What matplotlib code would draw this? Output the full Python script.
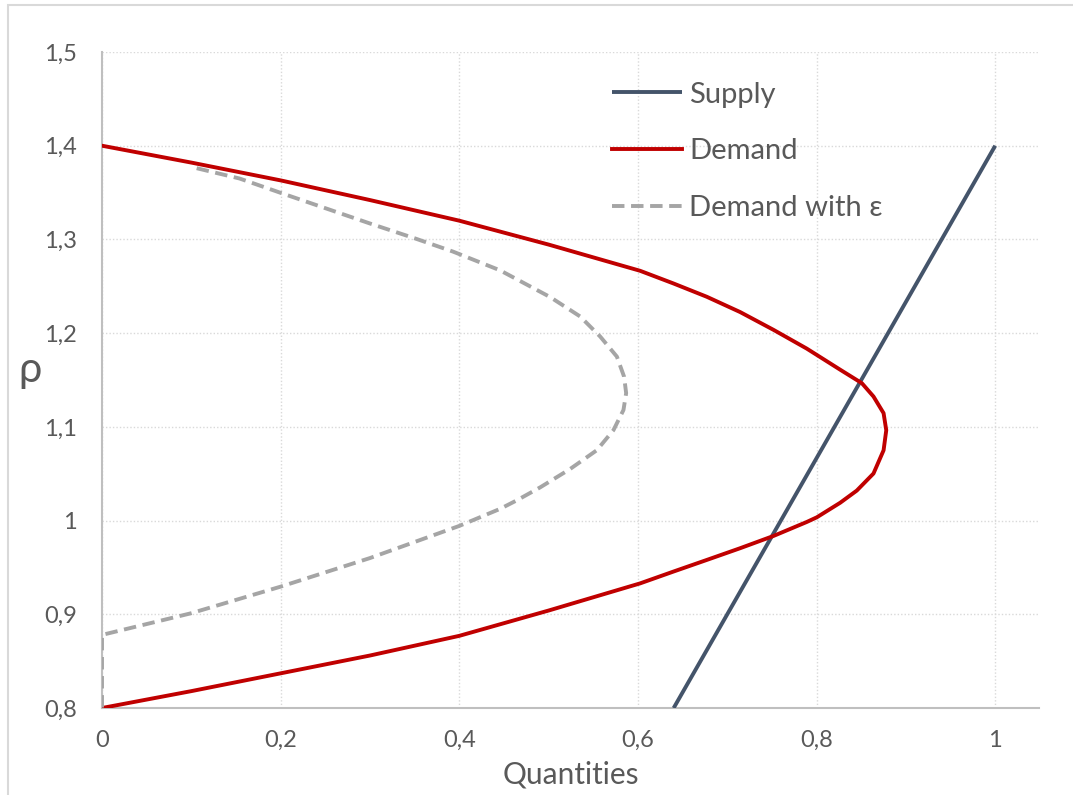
import matplotlib
matplotlib.use("Agg")
import matplotlib.pyplot as plt
from matplotlib.patches import Rectangle
from matplotlib.ticker import FuncFormatter

plt.rcParams['font.family'] = ['Lato', 'DejaVu Sans']

# Supply line (quantity, rho)
supply_q = [0.64, 1.0]
supply_rho = [0.8, 1.4]

# Demand curve (quantity, rho)
demand_q = [0.0, 0.1, 0.2, 0.3, 0.4, 0.5, 0.6025, 0.6398, 0.6771, 0.7144, 0.7518, 0.789, 0.8264,
            0.8507, 0.8637, 0.875, 0.878, 0.875, 0.8637, 0.845, 0.8264, 0.8003, 0.789, 0.7518,
            0.7144, 0.6771, 0.6398, 0.6025, 0.5, 0.4, 0.3, 0.2, 0.1, 0.0]
demand_rho = [1.4, 1.382, 1.363, 1.342, 1.320, 1.2945, 1.2665, 1.253, 1.2388, 1.2225, 1.2035, 1.1835, 1.161,
              1.1466, 1.1324, 1.1146, 1.0964, 1.075, 1.0502, 1.032, 1.019, 1.0035, 0.9985, 0.9836,
              0.9705, 0.958, 0.9456, 0.933, 0.904, 0.877, 0.856, 0.837, 0.818, 0.8]

# Demand with epsilon
eps_q = [0.106, 0.154, 0.2, 0.3, 0.3507, 0.393, 0.4457, 0.5017, 0.5353, 0.5577, 0.5764, 0.5845,
         0.5868, 0.5838, 0.5726, 0.554, 0.524, 0.4905, 0.4644, 0.4457, 0.4, 0.3, 0.2, 0.0993, 0.0, 0.0]
eps_rho = [1.376, 1.365, 1.3497, 1.317, 1.301, 1.287, 1.267, 1.2385, 1.2178, 1.1964, 1.175, 1.1535,
           1.136, 1.118, 1.0965, 1.0751, 1.055, 1.0354, 1.0216, 1.0125, 0.9943, 0.96, 0.9295, 0.901, 0.878, 0.8]

x_ticks = [0, 0.2, 0.4, 0.6, 0.8, 1.0]
y_ticks = [0.8, 0.9, 1.0, 1.1, 1.2, 1.3, 1.4, 1.5]

TXT = '#595959'

fig = plt.figure(figsize=(10.73, 7.95), dpi=100)
ax = fig.add_axes([102/1073, 1-708/795, 937/1073, 656/795])

ax.plot(supply_q, supply_rho, color='#44546a', lw=2.8, label='Supply', solid_capstyle='butt')
ax.plot(demand_q, demand_rho, color='#c00000', lw=2.8, label='Demand', solid_joinstyle='round')
ax.plot(eps_q, eps_rho, color='#a5a5a5', lw=2.8, dashes=(3.2, 1.7), label='Demand with ε')

ax.set_xlim(0, 1.049)
ax.set_ylim(0.8, 1.5)
ax.set_xticks(x_ticks)
ax.set_yticks(y_ticks)

def fmt(v, pos):
    s = ('%.1f' % v)
    if s.endswith('.0'):
        s = s[:-2]
    return s.replace('.', ',')

ax.xaxis.set_major_formatter(FuncFormatter(fmt))
ax.yaxis.set_major_formatter(FuncFormatter(fmt))
ax.tick_params(axis='x', length=0, labelsize=17, colors=TXT, pad=16)
ax.tick_params(axis='y', length=0, labelsize=17, colors=TXT, pad=18)

ax.grid(True, color='#d9d9d9', linestyle=(0, (1, 1.5)), lw=1.0)
ax.set_axisbelow(True)
for s in ['top', 'right']:
    ax.spines[s].set_visible(False)
for s in ['left', 'bottom']:
    ax.spines[s].set_color('#bfbfbf')
    ax.spines[s].set_linewidth(1.5)
    ax.spines[s].set_zorder(1)

ax.set_xlabel('Quantities', fontsize=21.5, color=TXT, labelpad=7)
fig.text(30/1073, 1-370/795, 'ρ', fontsize=30, color=TXT, ha='center', va='center')

leg = ax.legend(loc='upper left', bbox_to_anchor=(0.516, 0.995), frameon=False,
                fontsize=21, handlelength=2.4, handletextpad=0.25, labelspacing=1.05)
for t in leg.get_texts():
    t.set_color(TXT)

fig.patches.append(Rectangle((8/1073, -0.1), 1.2, 1.1 - 5/795, transform=fig.transFigure,
                             fill=False, edgecolor='#d9d9d9', lw=1.5))

fig.savefig('out.png', dpi=100)
